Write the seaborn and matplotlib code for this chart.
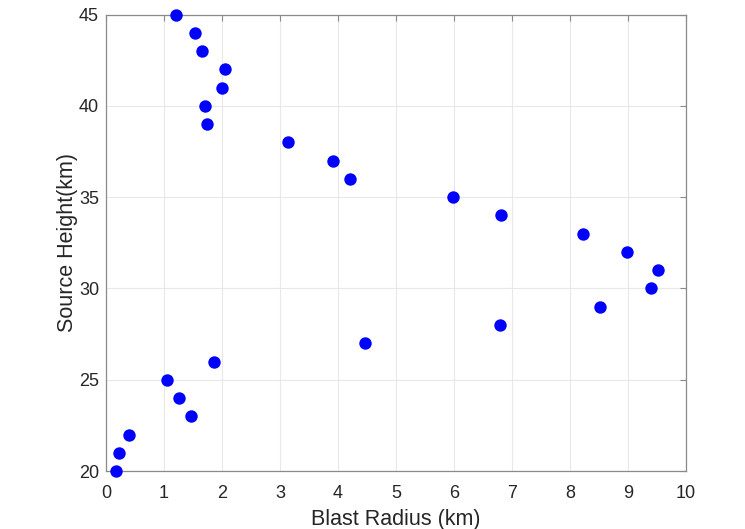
import matplotlib
matplotlib.use("Agg")
import matplotlib.pyplot as plt
import seaborn as sns
import pandas as pd

# Blast radius (km) for each source height (km)
blast_radius = [0.17, 0.22, 0.40, 1.47, 1.26, 1.06, 1.87, 4.47, 6.79, 8.52,
                9.40, 9.51, 8.99, 8.23, 6.81, 5.98, 4.21, 3.91, 3.14, 1.74,
                1.70, 2.00, 2.05, 1.66, 1.53, 1.20]
source_height = [20, 21, 22, 23, 24, 25, 26, 27, 28, 29,
                 30, 31, 32, 33, 34, 35, 36, 37, 38, 39,
                 40, 41, 42, 43, 44, 45]
x_ticks = [0, 1, 2, 3, 4, 5, 6, 7, 8, 9, 10]
y_ticks = [20, 25, 30, 35, 40, 45]

df = pd.DataFrame({"Blast Radius (km)": blast_radius,
                   "Source Height(km)": source_height})

sns.set_style("white")
plt.rcParams["font.family"] = ["Liberation Sans", "DejaVu Sans"]

fig = plt.figure(figsize=(7.45, 5.29), dpi=100)
ax = fig.add_axes([0.1423, 0.1096, 0.7785, 0.8626])

sns.scatterplot(data=df, x="Blast Radius (km)", y="Source Height(km)",
                ax=ax, color="#0000ff", s=80, linewidth=0, zorder=3,
                clip_on=False)

ax.set_xlim(0, 10)
ax.set_ylim(20, 45)
ax.set_xticks(x_ticks)
ax.set_yticks(y_ticks)
ax.grid(True, color="#e8e8e8", linewidth=0.8)
ax.set_axisbelow(True)

for sp in ax.spines.values():
    sp.set_visible(True)
    sp.set_color("#8a8a8a")
    sp.set_linewidth(0.9)

ax.tick_params(axis="both", direction="in", length=4, width=0.8,
               color="#8a8a8a", top=True, right=True,
               labelsize=13, labelcolor="#262626")
ax.tick_params(axis="x", pad=10)
ax.tick_params(axis="y", pad=5)
ax.set_xlabel("Blast Radius (km)", fontsize=15.5, color="#262626", labelpad=5)
ax.set_ylabel("Source Height(km)", fontsize=15.5, color="#262626", labelpad=1)

fig.savefig("out.png", dpi=100)
